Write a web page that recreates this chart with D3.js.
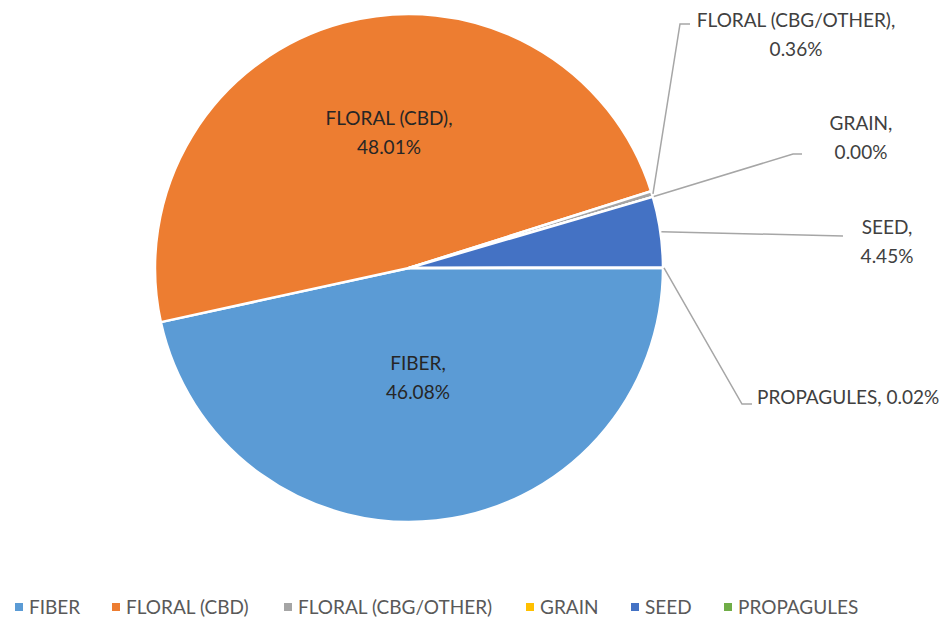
<!DOCTYPE html>
<html><head><meta charset="utf-8">
<script src="https://cdn.jsdelivr.net/npm/d3@7"></script>
<style>body{margin:0;background:#fff}svg{display:block}text{font-family:Lato,"Open Sans",sans-serif}</style>
</head><body><svg id="c" width="951" height="620"></svg>
<script>
const categories = ["FIBER","FLORAL (CBD)","FLORAL (CBG/OTHER)","GRAIN","SEED","PROPAGULES"];
const values = [46.08, 48.01, 0.36, 0.00, 4.45, 0.02];
const labels = ["46.08%","48.01%","0.36%","0.00%","4.45%","0.02%"];
const colors = ["#5B9BD5","#ED7D31","#A5A5A5","#FFC000","#4472C4","#70AD47"];

const svg = d3.select("#c");
const cx = 409, cy = 268, R = 254;
const g = svg.append("g").attr("transform",`translate(${cx},${cy})`);
const data = categories.map((c,i)=>({cat:c,v:values[i],lab:labels[i],col:colors[i]}));
const pie = d3.pie().value(d=>d.v).sort(null).startAngle(Math.PI/2).endAngle(Math.PI/2+2*Math.PI);
const arcs = pie(data);
const arc = d3.arc().innerRadius(0).outerRadius(R);
g.selectAll("path.s").data(arcs).enter().append("path").attr("class","s")
 .attr("d",arc).attr("fill",d=>d.data.col).attr("stroke","#fff").attr("stroke-width",2.5).attr("stroke-linejoin","round");

const fs = 19;
const inside = {0:[418,363],1:[389,118]};
const outside = {
  2:{tx:796,ty:20,ex:680,ey:24,hx:690,one:false},
  3:{tx:861,ty:123,ex:793,ey:154,hx:802,one:false},
  4:{tx:887,ty:227,ex:843,ey:236,hx:843,one:false},
  5:{tx:757,ty:397,ex:742,ey:404,hx:752,one:true}
};
arcs.forEach((a,i)=>{
  if(inside[i]){
    const [x,y]=inside[i];
    const t=svg.append("text").attr("text-anchor","middle").attr("fill","#262626").attr("font-size",fs);
    t.append("tspan").attr("x",x).attr("y",y+7).text(a.data.cat+",");
    t.append("tspan").attr("x",x).attr("y",y+36).text(a.data.lab);
  } else {
    const o=outside[i];
    const m=(a.startAngle+a.endAngle)/2;
    const sx=cx+Math.sin(m)*(R+1), sy=cy-Math.cos(m)*(R+1);
    svg.append("polyline").attr("points",`${sx},${sy} ${o.ex},${o.ey} ${o.hx},${o.ey}`)
      .attr("fill","none").attr("stroke","#A6A6A6").attr("stroke-width",1.5);
    if(o.one){
      svg.append("text").attr("x",o.tx).attr("y",o.ty+7).attr("fill","#404040").attr("font-size",fs).text(a.data.cat+", "+a.data.lab);
    } else {
      const t=svg.append("text").attr("text-anchor","middle").attr("fill","#404040").attr("font-size",fs);
      t.append("tspan").attr("x",o.tx).attr("y",o.ty+7).text(a.data.cat+",");
      t.append("tspan").attr("x",o.tx).attr("y",o.ty+36).text(a.data.lab);
    }
  }
});

const legX=[15,112,284,526,631,724];
const lg=svg.append("g");
data.forEach((d,i)=>{
  lg.append("rect").attr("x",legX[i]).attr("y",603).attr("width",8).attr("height",8).attr("fill",d.col);
  lg.append("text").attr("x",legX[i]+14).attr("y",614).attr("fill","#595959").attr("font-size",fs).text(d.cat);
});
</script></body></html>
